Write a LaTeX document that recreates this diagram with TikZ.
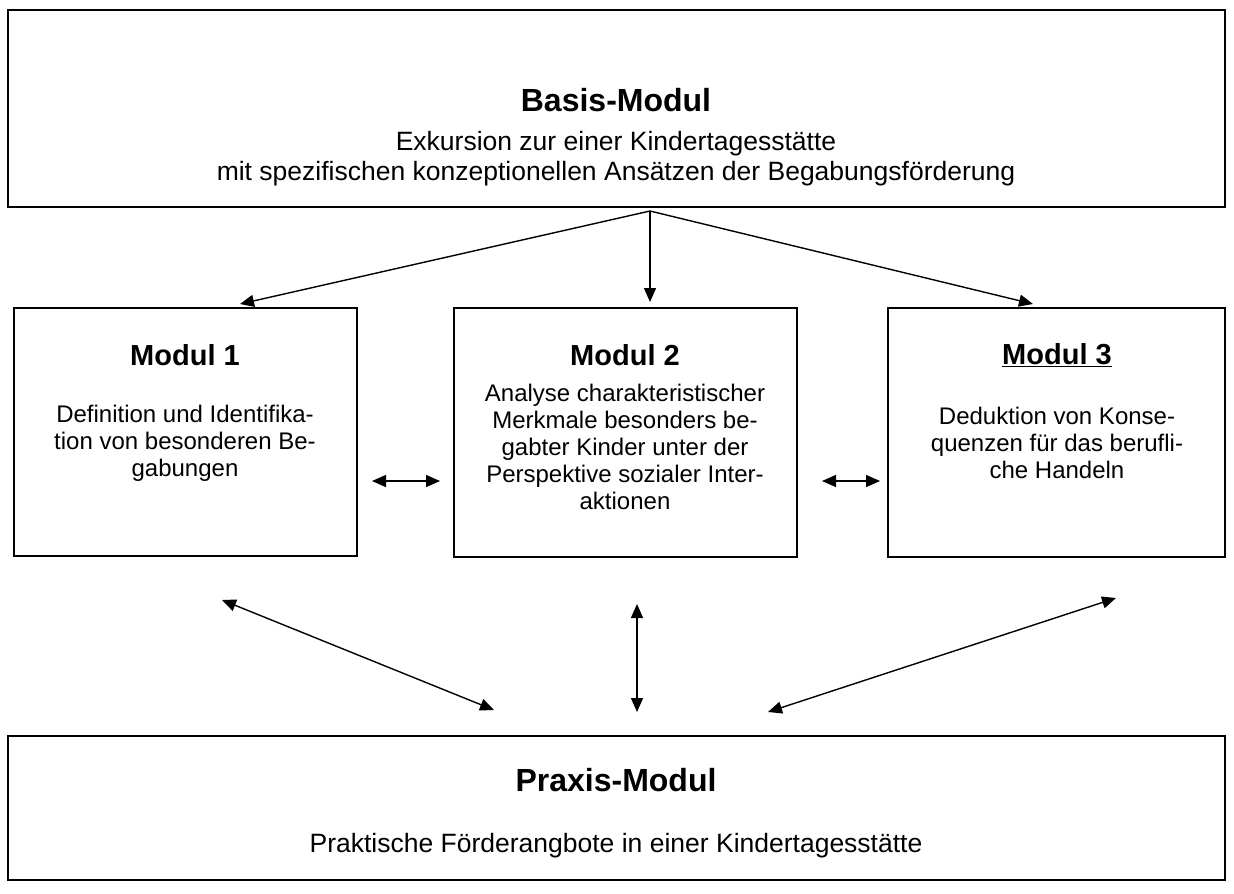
\documentclass[tikz,border=0pt]{standalone}
\usepackage{fontspec}
\setmainfont{Liberation Sans}
\usetikzlibrary{arrows.meta}
\begin{document}
\begin{tikzpicture}[x=1pt,y=-1pt,
  frame/.style={draw=black,line width=2pt,inner sep=0pt},
  ttl/.style={font=\fontsize{29}{33}\selectfont\bfseries,inner sep=0pt},
  bigttl/.style={font=\fontsize{32}{36}\selectfont\bfseries,inner sep=0pt},
  body/.style={font=\fontsize{24}{27}\selectfont,align=center,inner sep=0pt},
  bigbody/.style={font=\fontsize{26.5}{30}\selectfont,align=center,inner sep=0pt},
  arr/.style={line width=1.4pt,-{Triangle[length=14pt,width=12pt]}},
  darr/.style={line width=1.4pt,{Triangle[length=14pt,width=12pt]}-{Triangle[length=14pt,width=12pt]}}]
\useasboundingbox[fill=white] (0,0) rectangle (1234,894);
% boxes
\node[frame,minimum width=1217pt,minimum height=197pt] (basis) at (616.5,108.5) {};
\node[frame,minimum width=343pt,minimum height=248pt] (m1) at (185.5,432) {};
\node[frame,minimum width=343pt,minimum height=249pt] (m2) at (625.5,432.5) {};
\node[frame,minimum width=337pt,minimum height=249pt] (m3) at (1056.5,432.5) {};
\node[frame,minimum width=1217pt,minimum height=144pt] (praxis) at (616.5,808) {};
% texts
\node[bigttl] (tb) at (616,100) {Basis-Modul};
\node[bigbody] (lb) at (616,159) {Exkursion zur einer Kindertagesstätte\\mit spezifischen konzeptionellen Ansätzen der Begabungsförderung};
\node[ttl] (t1) at (185,355) {Modul 1};
\node[body] (l1) at (185,443) {Definition und Identifika-\\tion von besonderen Be-\\gabungen};
\node[ttl] (t2) at (625,355) {Modul 2};
\node[body] (l2) at (625,447) {Analyse charakteristischer\\Merkmale besonders be-\\gabter Kinder unter der\\Perspektive sozialer Inter-\\aktionen};
\node[ttl] (t3) at (1057,355) {\underline{Modul 3}};
\node[body] (l3) at (1057,443) {Deduktion von Konse-\\quenzen für das berufli-\\che Handeln};
\node[bigttl] (tp) at (616,780) {Praxis-Modul};
\node[bigbody] (lp) at (616,846) {Praktische Förderangbote in einer Kindertagesstätte};
% arrow endpoints
\coordinate (apex) at (650,211);
\coordinate (e1) at (240,304);
\coordinate (e2) at (650,302);
\coordinate (e3) at (1033,304);
\coordinate (h1a) at (372,481);
\coordinate (h1b) at (440,481);
\coordinate (h2a) at (822,481);
\coordinate (h2b) at (880,481);
\coordinate (d1a) at (222,600);
\coordinate (d1b) at (494,710);
\coordinate (d2a) at (637,604);
\coordinate (d2b) at (637,712);
\coordinate (d3a) at (1116,598);
\coordinate (d3b) at (768,712);
\draw[arr] (apex) -- (e1);
\draw[arr] (apex) -- (e2);
\draw[arr] (apex) -- (e3);
\draw[darr] (h1a) -- (h1b);
\draw[darr] (h2a) -- (h2b);
\draw[darr] (d1a) -- (d1b);
\draw[darr] (d2a) -- (d2b);
\draw[darr] (d3a) -- (d3b);
\end{tikzpicture}
\end{document}
